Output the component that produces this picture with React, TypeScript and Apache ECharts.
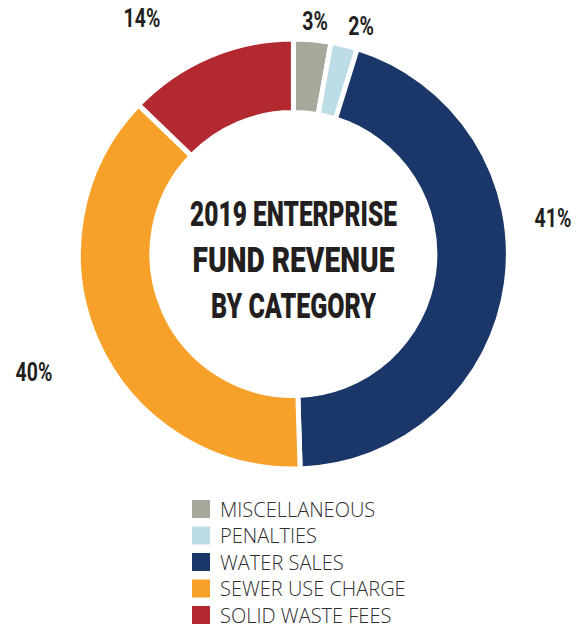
import React, { useEffect, useRef } from 'react';
import * as echarts from 'echarts';

// ---- data ----
const categories = ['MISCELLANEOUS', 'PENALTIES', 'WATER SALES', 'SEWER USE CHARGE', 'SOLID WASTE FEES'];
const shares = [2.8, 2.0, 44.7, 37.7, 12.8];
const shareLabels = ['3%', '2%', '41%', '40%', '14%'];
const titleLines = ['2019 ENTERPRISE', 'FUND REVENUE', 'BY CATEGORY'];

// ---- styles / layout ----
const COLORS = ['#a7a89c', '#bcdce6', '#1b3668', '#f8a12a', '#b2292f'];
const LABEL_XY = [[315, 21], [361, 26], [553, 218], [34, 372], [142, 18]];
const TITLE_Y = [214, 260.5, 305.5];
const TITLE_SCALE = [0.7, 0.805, 0.715];

export default function App() {
  const ref = useRef<HTMLDivElement>(null);
  useEffect(() => {
    if (!ref.current) return;
    const chart = echarts.init(ref.current, undefined, { renderer: 'svg' });
    const titleEls = titleLines.map((t, i) => ({
      type: 'text',
      x: 293.5,
      y: TITLE_Y[i],
      scaleX: TITLE_SCALE[i],
      silent: true,
      style: {
        text: t,
        fontFamily: 'Roboto',
        fontWeight: 900,
        fontSize: 35,
        fill: '#231f20',
        align: 'center',
        verticalAlign: 'middle',
      },
    }));
    const labelEls = shareLabels.map((t, i) => ({
      type: 'text',
      x: LABEL_XY[i][0],
      y: LABEL_XY[i][1],
      scaleX: 0.78,
      silent: true,
      style: {
        text: t,
        fontFamily: 'Roboto',
        fontWeight: 'bold',
        fontSize: 25,
        fill: '#231f20',
        align: 'center',
        verticalAlign: 'middle',
      },
    }));
    chart.setOption({
      animation: false,
      backgroundColor: '#ffffff',
      legend: {
        data: categories,
        orient: 'vertical',
        left: 192,
        top: 499,
        height: 140,
        padding: 0,
        itemWidth: 18,
        itemHeight: 18,
        itemGap: 6.5,
        icon: 'rect',
        selectedMode: false,
        itemStyle: { borderWidth: 0 },
        textStyle: {
          fontFamily: "'Open Sans'",
          fontWeight: 300,
          fontSize: 20,
          lineHeight: 18,
          color: '#2e2e2e',
          padding: [0, 0, 0, 5],
        },
      },
      graphic: [...titleEls, ...labelEls],
      series: [
        {
          type: 'pie',
          center: [293.4, 254],
          radius: [141.5, 215],
          startAngle: 90,
          clockwise: true,
          avoidLabelOverlap: false,
          silent: true,
          itemStyle: { borderColor: '#ffffff', borderWidth: 5 },
          label: { show: false },
          labelLine: { show: false },
          data: categories.map((name, i) => ({
            name,
            value: shares[i],
            itemStyle: { color: COLORS[i] },
          })),
        },
      ],
    });
    return () => chart.dispose();
  }, []);
  return (
    <div
      ref={ref}
      style={{ position: 'absolute', left: 0, top: 0, width: 582, height: 630 }}
    />
  );
}
